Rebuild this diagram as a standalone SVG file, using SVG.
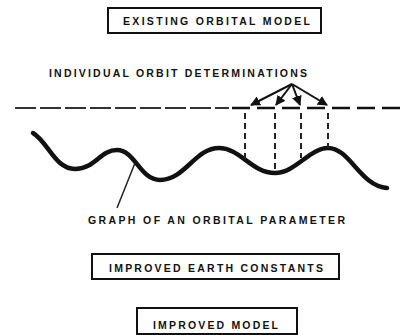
<svg xmlns="http://www.w3.org/2000/svg" width="405" height="335" viewBox="0 0 405 335">
  <style>
    .box { fill: #fff; stroke: #111; stroke-width: 2; }
    .lbl { font-family: "Liberation Sans", Arial, sans-serif; font-weight: bold; font-size: 10.5px; fill: #111; }
    .curve { fill: none; stroke: #111; stroke-width: 4.5; stroke-linecap: round; }
    .ptr { fill: none; stroke: #222; stroke-width: 1.5; }
    .arr { fill: none; stroke: #111; stroke-width: 2; }
    .vdash { fill: none; stroke: #222; stroke-width: 2; stroke-dasharray: 6 4; }
  </style>
  <defs>
    <marker id="ah" viewBox="0 0 10 10" refX="9" refY="5" markerWidth="5" markerHeight="5" orient="auto" markerUnits="strokeWidth">
      <path d="M0,0 L10,5 L0,10 Z" fill="#111"/>
    </marker>
  </defs>
  <rect width="405" height="335" fill="#fff"/>

  <g id="existing-model">
    <rect class="box" x="108" y="8" width="213" height="25"/>
    <text class="lbl" x="123" y="25" textLength="187" lengthAdjust="spacing">EXISTING ORBITAL MODEL</text>
  </g>

  <g id="orbit-determinations-label">
    <text class="lbl" x="49" y="77" textLength="258" lengthAdjust="spacing">INDIVIDUAL ORBIT DETERMINATIONS</text>
  </g>

  <g id="model-line">
    <line x1="15" y1="108" x2="229" y2="108" stroke="#333" stroke-width="2" stroke-dasharray="21 4"/>
    <line x1="232" y1="108" x2="405" y2="108" stroke="#111" stroke-width="2.5" stroke-dasharray="18 7"/>
  </g>

  <g id="orbital-graph">
    <path class="curve" d="M33,133 C48,142 55,169 75,169 C95,169 100,150 117,150 C135,150 140,180 160,180 C185,180 195,148 219,148 C240,148 252,173 275,173 C295,173 310,148 328,148 C350,148 360,186 387,188"/>
  </g>

  <g id="graph-label">
    <text class="lbl" x="88" y="224" textLength="257" lengthAdjust="spacing">GRAPH OF AN ORBITAL PARAMETER</text>
  </g>

  <g id="earth-constants">
    <rect class="box" x="92" y="254" width="247" height="25"/>
    <text class="lbl" x="109" y="272" textLength="214" lengthAdjust="spacing">IMPROVED EARTH CONSTANTS</text>
  </g>

  <g id="improved-model">
    <rect class="box" x="137" y="308" width="160" height="26"/>
    <text class="lbl" x="153" y="329" textLength="125" lengthAdjust="spacing">IMPROVED MODEL</text>
  </g>

  <g id="connectors">
    <line class="arr" x1="292" y1="84" x2="251" y2="105" marker-end="url(#ah)"/>
    <line class="arr" x1="292" y1="84" x2="276" y2="105" marker-end="url(#ah)"/>
    <line class="arr" x1="292" y1="84" x2="300" y2="105" marker-end="url(#ah)"/>
    <line class="arr" x1="292" y1="84" x2="327" y2="105" marker-end="url(#ah)"/>
    <line class="vdash" x1="245" y1="113" x2="245" y2="160"/>
    <line class="vdash" x1="275" y1="113" x2="275" y2="173"/>
    <line class="vdash" x1="301" y1="113" x2="301" y2="158"/>
    <line class="vdash" x1="328" y1="113" x2="328" y2="148"/>
    <line class="ptr" x1="135" y1="163" x2="117" y2="208"/>
  </g>
</svg>
